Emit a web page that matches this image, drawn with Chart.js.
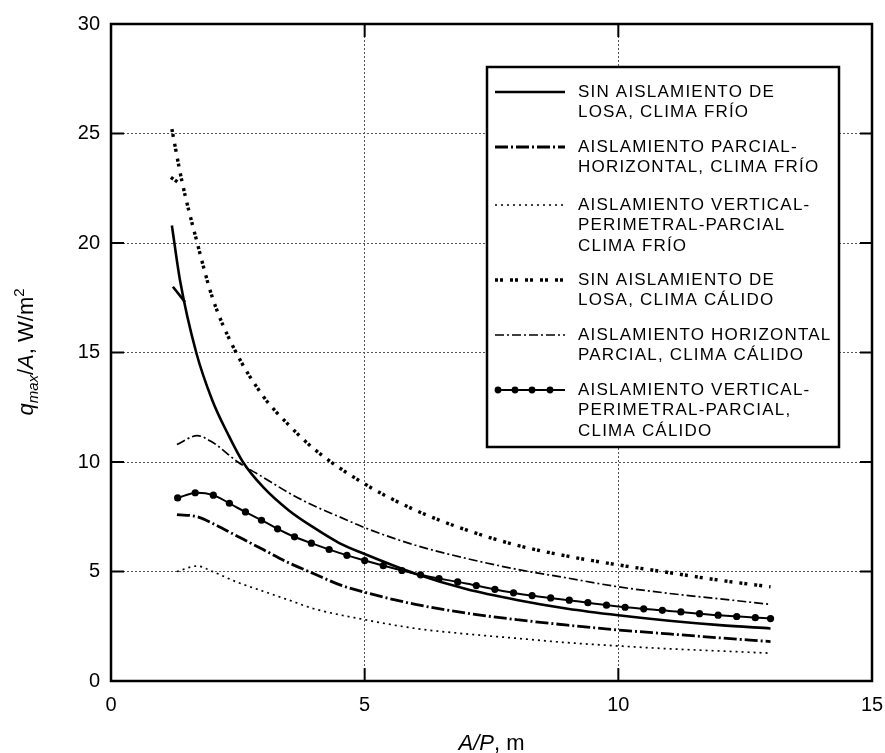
<!DOCTYPE html>
<html lang="es">
<head>
  <meta charset="UTF-8">
  <title>q max / A frente a A/P</title>
  <script src="https://cdn.jsdelivr.net/npm/chart.js"></script>
  <style>
    body { margin: 0; background: #fff; }
  </style>
</head>
<body>
<div style="width:885px; height:753px;">
  <canvas id="slabChart" width="885" height="753"></canvas>
</div>

<script>
  // ejes
  const xTicks = [0, 5, 10, 15];
  const yTicks = [0, 5, 10, 15, 20, 25, 30];

  // textos de la leyenda (una linea por elemento)
  const seriesLabels = [
    ['SIN AISLAMIENTO DE', 'LOSA, CLIMA FRÍO'],
    ['AISLAMIENTO PARCIAL-', 'HORIZONTAL, CLIMA FRÍO'],
    ['AISLAMIENTO VERTICAL-', 'PERIMETRAL-PARCIAL', 'CLIMA FRÍO'],
    ['SIN AISLAMIENTO DE', 'LOSA, CLIMA CÁLIDO'],
    ['AISLAMIENTO HORIZONTAL', 'PARCIAL, CLIMA CÁLIDO'],
    ['AISLAMIENTO VERTICAL-', 'PERIMETRAL-PARCIAL,', 'CLIMA CÁLIDO']
  ];

  // valores
  const sinAislFrioX = [1.2, 1.36, 1.68, 2.0, 2.3, 2.6, 3.0, 3.5, 4.0, 4.5, 5, 6, 7, 8, 9, 10, 11, 12, 13];
  const sinAislFrioY = [20.8, 18.3, 15.0, 12.8, 11.3, 10.0, 8.85, 7.8, 7.0, 6.3, 5.8, 4.9, 4.2, 3.7, 3.3, 3.0, 2.75, 2.55, 2.4];

  const horizFrioX = [1.3, 1.7, 2.0, 2.5, 3.0, 3.5, 4.0, 4.5, 5, 6, 7, 8, 9, 10, 11, 12, 13];
  const horizFrioY = [7.6, 7.5, 7.2, 6.6, 6.0, 5.4, 4.9, 4.4, 4.05, 3.5, 3.1, 2.8, 2.55, 2.33, 2.15, 1.97, 1.8];

  const vertFrioX = [1.3, 1.7, 2.0, 2.5, 3.0, 3.5, 4.0, 5, 6, 7, 8, 9, 10, 11, 12, 13];
  const vertFrioY = [5.0, 5.25, 5.0, 4.5, 4.1, 3.7, 3.3, 2.8, 2.4, 2.15, 1.95, 1.75, 1.6, 1.47, 1.37, 1.27];

  const sinAislCalidoX = [1.2, 1.4, 1.7, 2.0, 2.4, 3.0, 3.5, 4.0, 5, 6, 7, 8, 9, 10, 11, 12, 13];
  const sinAislCalidoY = [25.2, 22.8, 20.0, 17.5, 15.3, 13.0, 11.7, 10.6, 9.0, 7.8, 6.9, 6.2, 5.7, 5.3, 4.95, 4.6, 4.3];

  const horizCalidoX = [1.3, 1.7, 2.0, 2.5, 3.0, 3.5, 4.0, 4.5, 5, 6, 7, 8, 9, 10, 11, 12, 13];
  const horizCalidoY = [10.8, 11.2, 10.9, 10.0, 9.3, 8.6, 8.0, 7.5, 7.0, 6.2, 5.6, 5.1, 4.7, 4.3, 4.0, 3.75, 3.5];

  const vertCalidoX = [1.3, 1.7, 2.0, 2.5, 3.0, 3.5, 4.0, 4.5, 5, 6, 7, 8, 9, 10, 11, 12, 13];
  const vertCalidoY = [8.35, 8.6, 8.5, 7.9, 7.3, 6.7, 6.25, 5.85, 5.5, 4.9, 4.45, 4.0, 3.7, 3.4, 3.2, 3.0, 2.85];

  // pequenos tramos iniciales que se ven en la figura
  const ramaFrioX = [1.22, 1.46];
  const ramaFrioY = [18.0, 17.3];
  const ramaCalidoX = [1.18, 1.42];
  const ramaCalidoY = [23.0, 22.6];

  const FONT = "'Liberation Sans', Arial, sans-serif";

  function pts(xs, ys) {
    return xs.map((x, i) => ({ x: x, y: ys[i] }));
  }

  // estilos de linea
  const lineStyles = [
    { width: 2.6, dash: [] },
    { width: 2.8, dash: [13, 3, 2, 3] },
    { width: 1.7, dash: [2, 4] },
    { width: 3.4, dash: [3, 2, 3, 7] },
    { width: 1.7, dash: [9, 3, 2, 3] },
    { width: 2.0, dash: [], markers: true }
  ];

  const seriesData = [
    pts(sinAislFrioX, sinAislFrioY),
    pts(horizFrioX, horizFrioY),
    pts(vertFrioX, vertFrioY),
    pts(sinAislCalidoX, sinAislCalidoY),
    pts(horizCalidoX, horizCalidoY),
    pts(vertCalidoX, vertCalidoY)
  ];

  const datasets = seriesData.map((d, i) => ({
    label: seriesLabels[i].join(' '),
    data: d,
    borderColor: '#000',
    borderWidth: lineStyles[i].width,
    borderDash: lineStyles[i].dash,
    borderCapStyle: 'butt',
    pointRadius: 0,
    fill: false,
    cubicInterpolationMode: 'monotone'
  }));
  datasets.push({ label: 'rama1', data: pts(ramaFrioX, ramaFrioY), borderColor: '#000', borderWidth: 2.6, pointRadius: 0, fill: false });
  datasets.push({ label: 'rama4', data: pts(ramaCalidoX, ramaCalidoY), borderColor: '#000', borderWidth: 3.4, borderDash: [3, 2, 3, 7], pointRadius: 0, fill: false });

  // circulos a lo largo de la curva 6, siguiendo el trazo calculado por Chart.js
  const markerPlugin = {
    id: 'markers',
    afterDatasetsDraw(chart) {
      const ctx = chart.ctx;
      lineStyles.forEach((st, di) => {
        if (!st.markers) return;
        const p = chart.getDatasetMeta(di).data;
        const spacing = 18;
        let acc = spacing;
        let prev = { x: p[0].x, y: p[0].y };
        ctx.save();
        ctx.fillStyle = '#000';
        const dot = (x, y) => { ctx.beginPath(); ctx.arc(x, y, 3.6, 0, Math.PI * 2); ctx.fill(); };
        for (let i = 0; i < p.length - 1; i++) {
          const a = p[i], b = p[i + 1];
          const c1x = a.cp2x ?? a.x, c1y = a.cp2y ?? a.y, c2x = b.cp1x ?? b.x, c2y = b.cp1y ?? b.y;
          for (let s = 1; s <= 30; s++) {
            const t = s / 30, u = 1 - t;
            const x = u * u * u * a.x + 3 * u * u * t * c1x + 3 * u * t * t * c2x + t * t * t * b.x;
            const y = u * u * u * a.y + 3 * u * u * t * c1y + 3 * u * t * t * c2y + t * t * t * b.y;
            acc += Math.hypot(x - prev.x, y - prev.y);
            prev = { x, y };
            if (acc >= spacing) { dot(x, y); acc = 0; }
          }
        }
        const last = p[p.length - 1];
        dot(last.x, last.y);
        ctx.restore();
      });
    }
  };

  // marco, marcas interiores, leyenda y titulos de ejes
  const framePlugin = {
    id: 'frame',
    afterDraw(chart) {
      const ctx = chart.ctx;
      const a = chart.chartArea;
      const xs = chart.scales.x, ys = chart.scales.y;
      ctx.save();
      ctx.strokeStyle = '#000';
      ctx.setLineDash([]);
      ctx.lineWidth = 2.5;
      ctx.strokeRect(a.left, a.top, a.right - a.left, a.bottom - a.top);
      ctx.lineWidth = 2;
      xTicks.slice(1, -1).forEach(v => {
        const px = xs.getPixelForValue(v);
        ctx.beginPath();
        ctx.moveTo(px, a.bottom); ctx.lineTo(px, a.bottom - 13);
        ctx.moveTo(px, a.top); ctx.lineTo(px, a.top + 13);
        ctx.stroke();
      });
      yTicks.slice(1, -1).forEach(v => {
        const py = ys.getPixelForValue(v);
        ctx.beginPath();
        ctx.moveTo(a.left, py); ctx.lineTo(a.left + 13, py);
        ctx.moveTo(a.right, py); ctx.lineTo(a.right - 12, py);
        ctx.stroke();
      });

      // leyenda
      const bx = 487, by = 67, bw = 352, bh = 380;
      ctx.fillStyle = '#fff';
      ctx.fillRect(bx, by, bw, bh);
      ctx.lineWidth = 2.5;
      ctx.strokeRect(bx, by, bw, bh);
      const rowY = [92, 147, 205, 280, 335, 390];
      ctx.font = '17px ' + FONT;
      ctx.letterSpacing = '1.2px';
      ctx.textBaseline = 'middle';
      ctx.fillStyle = '#000';
      seriesLabels.forEach((lines, i) => {
        const st = lineStyles[i];
        ctx.save();
        ctx.lineWidth = st.width;
        ctx.setLineDash(st.dash);
        ctx.lineCap = 'butt';
        ctx.beginPath();
        ctx.moveTo(495, rowY[i]); ctx.lineTo(565, rowY[i]);
        ctx.stroke();
        if (st.markers) {
          ctx.fillStyle = '#000';
          [498, 515, 532, 550].forEach(mx => { ctx.beginPath(); ctx.arc(mx, rowY[i], 3.4, 0, Math.PI * 2); ctx.fill(); });
        }
        ctx.restore();
        lines.forEach((t, k) => ctx.fillText(t, 578, rowY[i] + k * 20.8));
      });
      ctx.letterSpacing = '0px';

      // titulo eje y
      ctx.fillStyle = '#000';
      ctx.textBaseline = 'alphabetic';
      const parts = [
        { t: 'q', f: 'italic 22px ' + FONT, dy: 0 },
        { t: 'max', f: 'italic 15px ' + FONT, dy: 5 },
        { t: '/', f: '22px ' + FONT, dy: 0 },
        { t: 'A', f: 'italic 22px ' + FONT, dy: 0 },
        { t: ', W/m', f: '22px ' + FONT, dy: 0 },
        { t: '2', f: '15px ' + FONT, dy: -9 }
      ];
      let total = 0;
      parts.forEach(p => { ctx.font = p.f; p.w = ctx.measureText(p.t).width; total += p.w; });
      ctx.save();
      ctx.translate(33, 352);
      ctx.rotate(-Math.PI / 2);
      let cx = -total / 2;
      parts.forEach(p => { ctx.font = p.f; ctx.fillText(p.t, cx, p.dy); cx += p.w; });
      ctx.restore();

      // titulo eje x
      const xparts = [
        { t: 'A/P', f: 'italic 22px ' + FONT },
        { t: ', m', f: '22px ' + FONT }
      ];
      total = 0;
      xparts.forEach(p => { ctx.font = p.f; p.w = ctx.measureText(p.t).width; total += p.w; });
      cx = (a.left + a.right) / 2 - total / 2;
      xparts.forEach(p => { ctx.font = p.f; ctx.fillText(p.t, cx, 750); cx += p.w; });
      ctx.restore();
    }
  };

  const ctxSlab = document.getElementById('slabChart').getContext('2d');
  const slabChart = new Chart(ctxSlab, {
    type: 'line',
    data: { datasets: datasets },
    options: {
      responsive: false,
      animation: false,
      layout: { padding: { left: 0, top: 24, right: 13, bottom: 0 } },
      plugins: {
        legend: { display: false },
        tooltip: { enabled: false }
      },
      scales: {
        x: {
          type: 'linear',
          min: xTicks[0],
          max: xTicks[xTicks.length - 1],
          afterFit(scale) {
            scale.height = 72;
            scale.paddingLeft = 0;
            scale.paddingRight = 0;
          },
          afterBuildTicks(scale) { scale.ticks = xTicks.map(v => ({ value: v })); },
          ticks: { color: '#000', font: { family: FONT, size: 20 }, padding: 12 },
          grid: { color: '#555', lineWidth: 1, drawTicks: false },
          border: { display: false, dash: [2, 2] }
        },
        y: {
          type: 'linear',
          min: yTicks[0],
          max: yTicks[yTicks.length - 1],
          afterFit(scale) {
            scale.width = 111;
            scale.paddingTop = 0;
            scale.paddingBottom = 0;
          },
          afterBuildTicks(scale) { scale.ticks = yTicks.map(v => ({ value: v })); },
          ticks: { color: '#000', font: { family: FONT, size: 20 }, padding: 11 },
          grid: { color: '#555', lineWidth: 1, drawTicks: false },
          border: { display: false, dash: [2, 2] }
        }
      }
    },
    plugins: [markerPlugin, framePlugin]
  });
</script>
</body>
</html>
